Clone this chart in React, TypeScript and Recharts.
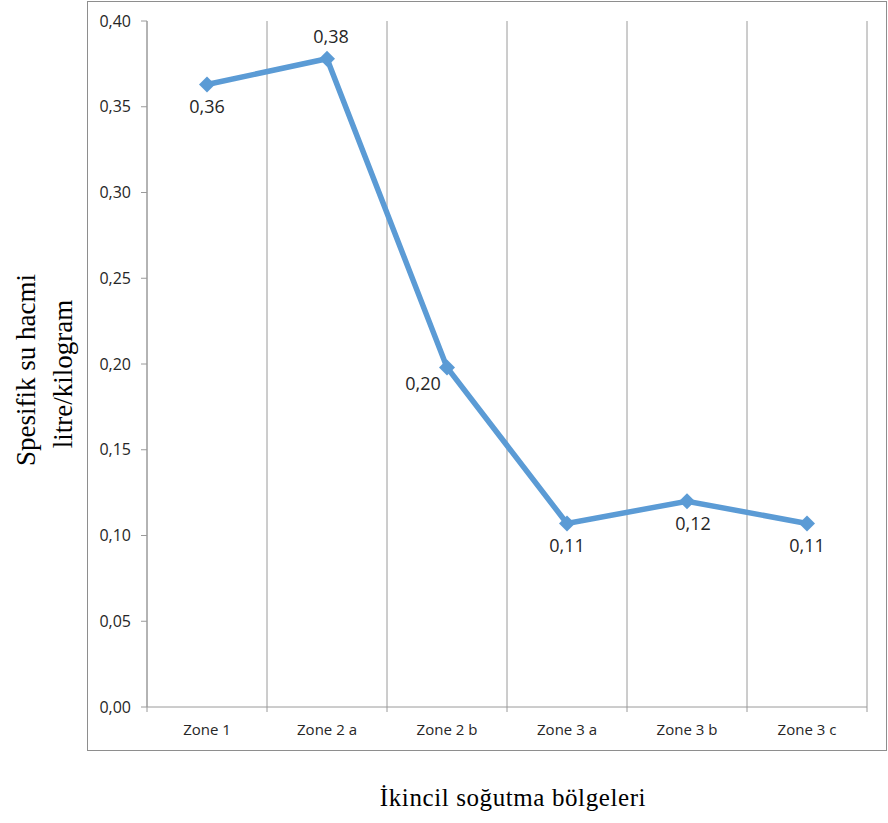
import { LineChart, Line, XAxis, YAxis, CartesianGrid, Label } from 'recharts';

const zones = ['Zone 1', 'Zone 2 a', 'Zone 2 b', 'Zone 3 a', 'Zone 3 b', 'Zone 3 c'];
const volumes = [0.363, 0.378, 0.198, 0.107, 0.12, 0.107];
const yTicks = [0, 0.05, 0.1, 0.15, 0.2, 0.25, 0.3, 0.35, 0.4];
const yTitleLines = ['Spesifik su hacmi', 'litre/kilogram'];
const xTitle = 'İkincil soğutma bölgeleri';

// where each value label sits relative to its point (dx, dy)
const labelShift = [[0, 22], [4, -23], [-24, 16], [0, 22], [6, 22], [0, 22]];

const W = 888;
const H = 823;
const MARGIN = { top: 21, right: 21, bottom: 86, left: 87 };
const PLOT_W = W - MARGIN.left - MARGIN.right - 60;
const HALF = PLOT_W / zones.length / 2;
const BLUE = '#5B9BD5';
const GRID = '#9a9a9a';
const SANS = '"Open Sans", sans-serif';
const SERIF = '"Liberation Serif", "Times New Roman", serif';

const data = zones.map((zone, i) => ({ zone, value: volumes[i] }));

const fmt = (v: number) => v.toFixed(2).replace('.', ',');

function ZoneTick({ x, y, payload, index }: any) {
  return (
    <g>
      <line x1={x - HALF} x2={x - HALF} y1={y} y2={y + 5} stroke={GRID} />
      {index === zones.length - 1 && (
        <line x1={x + HALF} x2={x + HALF} y1={y} y2={y + 5} stroke={GRID} />
      )}
      <text x={x} y={y + 22} textAnchor="middle" dominantBaseline="central"
        fontFamily={SANS} fontSize={15} fill="#262626">
        {payload.value}
      </text>
    </g>
  );
}

function Diamond({ cx, cy, index }: any) {
  const r = 8;
  return (
    <path key={`d-${index}`} d={`M${cx},${cy - r}L${cx + r},${cy}L${cx},${cy + r}L${cx - r},${cy}Z`} fill={BLUE} />
  );
}

function ValueLabel({ x, y, value, index }: any) {
  const [dx, dy] = labelShift[index];
  return (
    <text key={`l-${index}`} x={x + dx} y={y + dy} textAnchor="middle" dominantBaseline="central"
      fontFamily={SANS} fontSize={18} fill="#262626">
      {fmt(value)}
    </text>
  );
}

export default function App() {
  return (
    <div style={{ position: 'absolute', left: 0, top: 0, width: W, height: H, background: '#fff' }}>
      <div style={{ position: 'absolute', left: 87, top: 1, width: 798, height: 748, border: '1px solid #8e8e8e' }} />
      <div style={{ position: 'absolute', left: 0, top: 0 }}>
        <LineChart width={W} height={H} data={data} margin={MARGIN}>
          <CartesianGrid
            horizontal={false}
            stroke={GRID}
            verticalCoordinatesGenerator={({ offset }: any) =>
              zones.map((_, i) => offset.left + (i * offset.width) / zones.length).concat(offset.left + offset.width)
            }
          />
          <XAxis
            dataKey="zone"
            height={30}
            padding={{ left: HALF, right: HALF }}
            tickSize={0}
            tickMargin={0}
            tickLine={false}
            axisLine={{ stroke: GRID }}
            tick={<ZoneTick />}
            interval={0}
          >
            <Label
              content={() => (
                <text x={513} y={806} textAnchor="middle" fontFamily={SERIF} fontSize={25}
                  letterSpacing={0.6} fill="#000">
                  {xTitle}
                </text>
              )}
            />
          </XAxis>
          <YAxis
            width={60}
            domain={[0, 0.4]}
            ticks={yTicks}
            tickFormatter={fmt}
            tickSize={6}
            tickMargin={10}
            axisLine={{ stroke: GRID }}
            tickLine={{ stroke: GRID }}
            tick={{ fontFamily: SANS, fontSize: 16, fill: '#262626' }}
          >
            <Label
              content={() => (
                <g fontFamily={SERIF} fontSize={27} fill="#000">
                  <text transform="translate(35,370) rotate(-90)" textAnchor="middle">{yTitleLines[0]}</text>
                  <text transform="translate(72,374) rotate(-90)" textAnchor="middle">{yTitleLines[1]}</text>
                </g>
              )}
            />
          </YAxis>
          <Line
            dataKey="value"
            stroke={BLUE}
            strokeWidth={5.5}
            dot={<Diamond />}
            activeDot={false}
            label={<ValueLabel />}
            isAnimationActive={false}
          />
        </LineChart>
      </div>
    </div>
  );
}
